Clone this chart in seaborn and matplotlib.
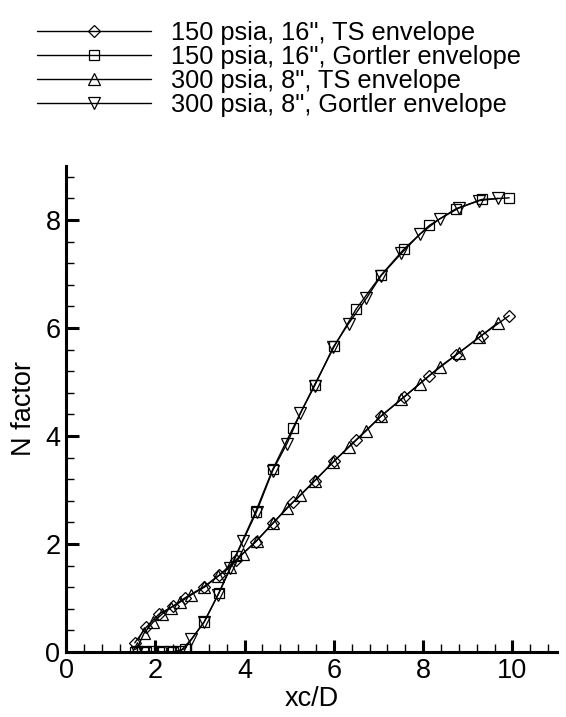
import matplotlib
matplotlib.use("Agg")
import matplotlib.pyplot as plt
import seaborn as sns
import numpy as np
import pandas as pd

# ---- data ----
x150 = [1.54, 1.80, 2.08, 2.40, 2.66, 3.09, 3.43, 3.80, 4.25, 4.63, 5.08, 5.57,
        6.01, 6.50, 7.06, 7.57, 8.14, 8.74, 9.31, 9.93]
ts150 = [0.17, 0.46, 0.70, 0.85, 1.00, 1.21, 1.42, 1.70, 2.04, 2.38, 2.77, 3.17,
         3.54, 3.93, 4.37, 4.72, 5.12, 5.50, 5.86, 6.23]
g150 = [0.00, 0.00, 0.00, 0.00, 0.06, 0.55, 1.10, 1.78, 2.60, 3.38, 4.14, 4.95,
        5.66, 6.35, 6.98, 7.46, 7.90, 8.21, 8.38, 8.41]

x300 = [1.60, 1.75, 1.95, 2.15, 2.35, 2.55, 2.81, 3.10, 3.40, 3.68, 3.96, 4.27,
        4.63, 4.95, 5.25, 5.57, 5.99, 6.33, 6.73, 7.06, 7.51, 7.93, 8.37, 8.80,
        9.26, 9.68]
ts300 = [0.08, 0.35, 0.55, 0.70, 0.82, 0.92, 1.06, 1.20, 1.40, 1.58, 1.82, 2.06,
         2.38, 2.67, 2.90, 3.17, 3.52, 3.79, 4.10, 4.37, 4.68, 4.97, 5.28, 5.54,
         5.83, 6.10]
g300 = [0.00, 0.00, 0.00, 0.00, 0.00, 0.00, 0.24, 0.56, 1.05, 1.55, 2.05, 2.60,
        3.36, 3.86, 4.42, 4.93, 5.65, 6.08, 6.55, 6.97, 7.38, 7.74, 8.02, 8.22,
        8.36, 8.40]

labels = ['150 psia, 16", TS envelope',
          '150 psia, 16", Gortler envelope',
          '300 psia, 8", TS envelope',
          '300 psia, 8", Gortler envelope']

series = [(x150, ts150, 'D', 6.0),
          (x150, g150, 's', 7.0),
          (x300, ts300, '^', 8.5),
          (x300, g300, 'v', 8.5)]

sns.set_style("ticks")
plt.rcParams['font.family'] = ['Liberation Sans', 'DejaVu Sans']
plt.rcParams['text.color'] = 'black'
plt.rcParams['axes.labelcolor'] = 'black'
plt.rcParams['xtick.color'] = 'black'
plt.rcParams['ytick.color'] = 'black'

fig = plt.figure(figsize=(5.66, 7.17), dpi=100)
ax = fig.add_axes([66/566, 1 - 652/717, (557-66)/566, (652-166)/717])

handles = []
for (xs, ys, mk, ms), lab in zip(series, labels):
    df = pd.DataFrame({"x": xs, "y": ys})
    sns.lineplot(data=df, x="x", y="y", ax=ax, sort=False, estimator=None,
                 color="black", linewidth=1.0, marker=mk, markersize=ms,
                 markerfacecolor="none", markeredgecolor="black",
                 markeredgewidth=0.9, label=lab, legend=False)
    handles.append(ax.lines[-1])

ax.set_xlim(0, 11)
ax.set_ylim(0, 9)
ax.set_xticks([0, 2, 4, 6, 8, 10])
ax.set_yticks([0, 2, 4, 6, 8])
ax.xaxis.set_minor_locator(matplotlib.ticker.MultipleLocator(0.4))
ax.yaxis.set_minor_locator(matplotlib.ticker.MultipleLocator(0.4))
ax.tick_params(which="major", direction="in", length=9, width=2.2,
               labelsize=19.5, pad=4, colors="black")
ax.tick_params(which="minor", direction="in", length=5.5, width=1.0,
               colors="black")
for s in ["top", "right"]:
    ax.spines[s].set_visible(False)
for s in ["left", "bottom"]:
    ax.spines[s].set_linewidth(2.2)
    ax.spines[s].set_color("black")

ax.set_xlabel("xc/D", fontsize=19.5, labelpad=2, color="black")
ax.set_ylabel("N factor", fontsize=19.5, labelpad=6, color="black")

fig.legend(handles, labels, loc="upper left",
           bbox_to_anchor=(37/566, 1 - 21/717), frameon=False,
           fontsize=18.3, handlelength=4.5, handletextpad=0.78,
           labelspacing=0.0, borderpad=0, borderaxespad=0, numpoints=1,
           labelcolor="black")

fig.savefig("out.png", dpi=100)
